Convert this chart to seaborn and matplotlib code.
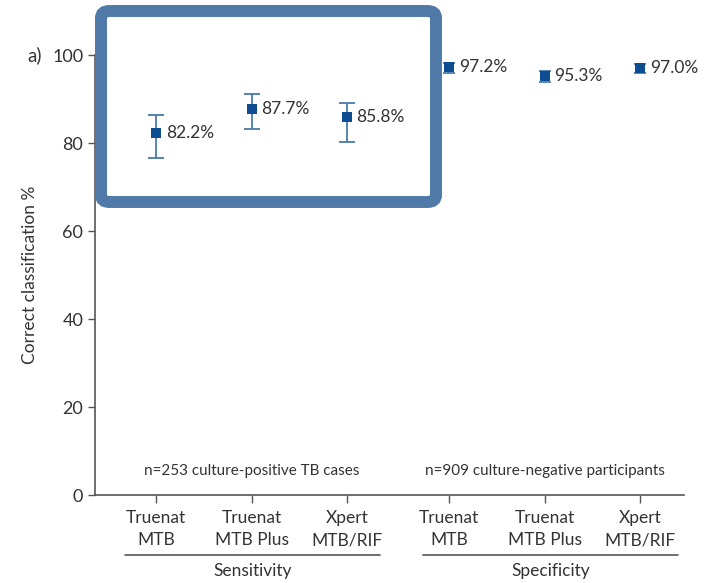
import numpy as np
import pandas as pd
import matplotlib
matplotlib.use("Agg")
import matplotlib.pyplot as plt
import seaborn as sns
from matplotlib.patches import FancyBboxPatch
from matplotlib.lines import Line2D

# ---- data ----
tests = ["Truenat\nMTB", "Truenat\nMTB Plus", "Xpert\nMTB/RIF",
         "Truenat\nMTB", "Truenat\nMTB Plus", "Xpert\nMTB/RIF"]
groups = ["Sensitivity"] * 3 + ["Specificity"] * 3
estimates = [82.2, 87.7, 85.8, 97.2, 95.3, 97.0]
ci_low = [76.5, 83.2, 80.2, 96.0, 93.8, 95.8]
ci_high = [86.3, 91.2, 89.0, 98.2, 96.4, 97.9]
group_notes = ["n=253 culture-positive TB cases", "n=909 culture-negative participants"]
group_names = ["Sensitivity", "Specificity"]

sns.set_theme(style="ticks")
plt.rcParams['font.family'] = ['Lato', 'DejaVu Sans']

text_c = "#333333"
spine_c = "#555555"
marker_c = "#0e4d92"
err_c = "#4a7bab"

# x positions: index plus a small gap between the two groups
xpos = [i + (0.07 if g == "Specificity" else 0.0) for i, g in enumerate(groups)]
df = pd.DataFrame({"x": xpos, "est": estimates, "lo": ci_low, "hi": ci_high,
                   "group": groups, "test": tests})

fig = plt.figure(figsize=(7.09, 5.83), dpi=100)
ax = fig.add_axes([95/709, (583-495)/583, (684-95)/709, (495-55)/583])

caps = [6 if g == "Sensitivity" else 4.5 for g in groups]
for g, cs in (("Sensitivity", 6), ("Specificity", 4.5)):
    sub = df[df["group"] == g]
    ax.errorbar(sub["x"], sub["est"],
                yerr=[sub["est"] - sub["lo"], sub["hi"] - sub["est"]],
                fmt="none", ecolor=err_c, elinewidth=1.3, capsize=cs, capthick=1.3, zorder=2)
sns.scatterplot(data=df, x="x", y="est", marker="s", s=55, color=marker_c,
                edgecolor=marker_c, linewidth=0, ax=ax, zorder=3, legend=False)

for x, v in zip(df["x"], df["est"]):
    ax.text(x + 0.1, v, f"{v:.1f}%", ha="left", va="center", fontsize=12.5, color=text_c)

ax.set_xlim(-0.64, 5.53)
ax.set_ylim(0, 100)
ax.set_yticks([0, 20, 40, 60, 80, 100])
ax.set_xticks(xpos)
ax.set_xticklabels(tests, fontsize=12.5, color=text_c, linespacing=1.45)
ax.tick_params(axis="y", labelsize=13, labelcolor=text_c, color=spine_c, length=5, width=1)
ax.tick_params(axis="x", color=spine_c, length=6, width=1, pad=5)
ax.set_xlabel("")
ax.set_ylabel("Correct classification %", fontsize=12.5, color=text_c, labelpad=10)
sns.despine(ax=ax)
for s in ["left", "bottom"]:
    ax.spines[s].set_color(spine_c)
    ax.spines[s].set_linewidth(1.2)

# group notes inside the axes
centers = [np.mean(xpos[:3]), np.mean(xpos[3:])]
for c, note in zip(centers, group_notes):
    ax.text(c, 5.5, note, ha="center", va="center", fontsize=11, color=text_c)

# group brackets under the tick labels
spans = [(125, 380), (423, 678)]
for (x0, x1), name in zip(spans, group_names):
    fig.add_artist(Line2D([x0/709, x1/709], [(583-555)/583]*2, color=spine_c, lw=1.2))
    fig.text((x0 + x1)/2/709, (583-571)/583, name, ha="center", va="center",
             fontsize=12.5, color=text_c)

fig.text(35/709, (583-55)/583, "a)", ha="center", va="center", fontsize=13.5, color=text_c)

# highlight box
box = FancyBboxPatch((101/709, (583-202)/583), (436-101)/709, (202-11)/583,
                     boxstyle="round,pad=0,rounding_size=0.012",
                     transform=fig.transFigure, facecolor="none",
                     edgecolor="#4f7aa8", linewidth=8.6, zorder=10)
fig.add_artist(box)

fig.savefig("out.png", dpi=100)
